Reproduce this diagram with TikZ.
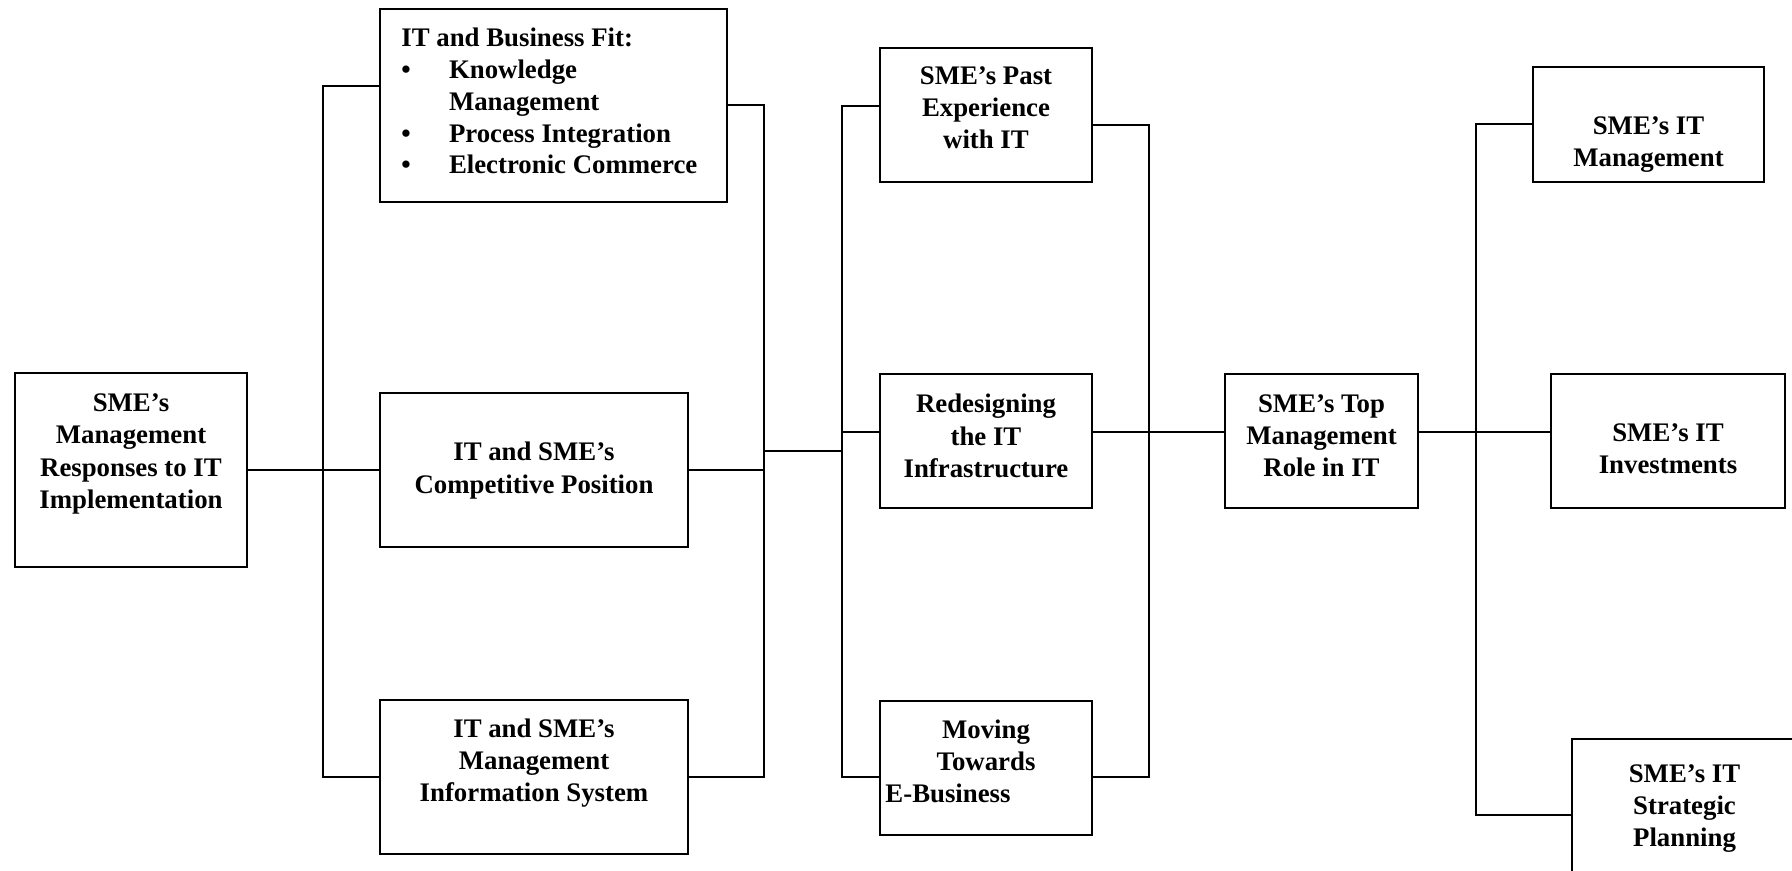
\documentclass[tikz,border=0pt]{standalone}
\usepackage{fontspec}
\setmainfont{Liberation Serif}
\begin{document}
\begin{tikzpicture}[x=0.5pt,y=-0.5pt,
  box/.style={draw, line width=1pt, rectangle, inner sep=0pt},
  lbl/.style={font=\fontsize{13.4}{16.1}\selectfont\bfseries, align=center,
    anchor=north, inner sep=0pt, execute at begin node={\rule{0pt}{11pt}}},
  wire/.style={line width=1pt}]
\fill[white] (0,0) rectangle (1792,871);
\clip (0,0) rectangle (1792,871);

% boxes
\node[box, minimum width=116pt,   minimum height=96.5pt] (A)  at (131,470) {};
\node[box, minimum width=173.5pt, minimum height=96.5pt] (B1) at (553.5,105.5) {};
\node[box, minimum width=154pt,   minimum height=77pt]   (B2) at (534,470) {};
\node[box, minimum width=154pt,   minimum height=77pt]   (B3) at (534,777) {};
\node[box, minimum width=106pt,   minimum height=67pt]   (C1) at (986,115) {};
\node[box, minimum width=106pt,   minimum height=67pt]   (C2) at (986,441) {};
\node[box, minimum width=106pt,   minimum height=67pt]   (C3) at (986,768) {};
\node[box, minimum width=96.5pt,  minimum height=67pt]   (D)  at (1321.5,441) {};
\node[box, minimum width=115.5pt, minimum height=57.5pt] (E1) at (1648.5,124.5) {};
\node[box, minimum width=117pt,   minimum height=67pt]   (E2) at (1668,441) {};
\node[box, minimum width=112.5pt, minimum height=80.5pt] (E3) at (1684.5,819.5) {};

% labels
\node[lbl] (tA) at ([yshift=-10.5pt]A.north) {SME’s\\Management\\Responses to IT\\Implementation};
\node[lbl, anchor=north west, align=left, font=\fontsize{13.4}{15.85}\selectfont\bfseries] (tB1) at ([xshift=11pt,yshift=-10pt]B1.north west)
  {IT and Business Fit:\\
   \makebox[23.8pt][l]{•}Knowledge\\
   \hspace*{23.8pt}Management\\
   \makebox[23.8pt][l]{•}Process Integration\\
   \makebox[23.8pt][l]{•}Electronic Commerce};
\node[lbl] (tB2) at ([yshift=-25pt]B2.north) {IT and SME’s\\Competitive Position};
\node[lbl] (tB3) at ([yshift=-9.5pt]B3.north) {IT and SME’s\\Management\\Information System};
\node[lbl] (tC1) at ([yshift=-9.5pt]C1.north) {SME’s Past\\Experience\\with IT};
\node[lbl] (tC2) at ([yshift=-10.5pt]C2.north) {Redesigning\\the IT\\Infrastructure};
\node[lbl] (tC3) at ([yshift=-9.5pt]C3.north) {Moving\\Towards\\E-Business\hspace*{38pt}};
\node[lbl] (tD)  at ([yshift=-10.5pt]D.north) {SME’s Top\\Management\\Role in IT};
\node[lbl] (tE1) at ([yshift=-25pt]E1.north) {SME’s IT\\Management};
\node[lbl] (tE2) at ([yshift=-25pt]E2.north) {SME’s IT\\Investments};
\node[lbl] (tE3) at ([yshift=-13pt]E3.north) {SME’s IT\\Strategic\\Planning};

% connector anchor points
\coordinate (b1w) at ([yshift=-39pt]B1.north west);
\coordinate (c1w) at ([yshift=4.5pt]C1.west);
\coordinate (c2w) at ([yshift=4.5pt]C2.west);
\coordinate (c3w) at ([yshift=-4.5pt]C3.west);
\coordinate (c1e) at ([yshift=-5pt]C1.east);
\coordinate (c2e) at ([yshift=4.5pt]C2.east);
\coordinate (c3e) at ([yshift=-4.5pt]C3.east);
\coordinate (dw)  at ([yshift=4.5pt]D.west);
\coordinate (de)  at ([yshift=4.5pt]D.east);
\coordinate (e2w) at ([yshift=4.5pt]E2.west);
\coordinate (e3w) at ([yshift=-38.5pt]E3.north west);

% bracket spines
\coordinate (lx)  at (323,470);
\coordinate (rx)  at (764,451);
\coordinate (cx)  at (842,451);
\coordinate (crx) at (1149,432);
\coordinate (ex)  at (1476,432);

% connectors
\draw[wire] (A.east) -- (B2.west);
\draw[wire] (b1w) -| (lx) |- (B3.west);
\draw[wire] (B1.east) -| (rx) |- (B3.east);
\draw[wire] (B2.east) -- (B2.east -| rx);
\draw[wire] (rx) -- (cx);
\draw[wire] (c1w) -| (cx) |- (c3w);
\draw[wire] (c2w) -- (c2w -| cx);
\draw[wire] (c1e) -| (crx) |- (c3e);
\draw[wire] (c2e) -- (dw);
\draw[wire] (de) -- (e2w);
\draw[wire] (E1.west) -| (ex) |- (e3w);
\end{tikzpicture}
\end{document}
